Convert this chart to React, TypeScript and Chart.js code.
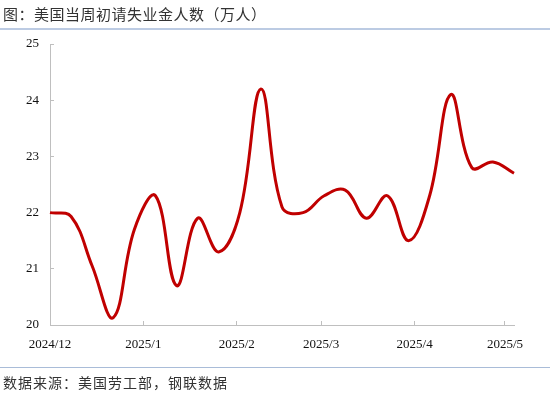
import React, { useEffect, useRef } from "react";
import { Chart, registerables } from "chart.js";

Chart.register(...registerables);

// Week dates and initial jobless claims (万人)
const weekDates: string[] = [
  "2024-12-01", "2024-12-08", "2024-12-15", "2024-12-22", "2024-12-29",
  "2025-01-05", "2025-01-12", "2025-01-19", "2025-01-26",
  "2025-02-02", "2025-02-09", "2025-02-16", "2025-02-23",
  "2025-03-02", "2025-03-09", "2025-03-16", "2025-03-23", "2025-03-30",
  "2025-04-06", "2025-04-13", "2025-04-20", "2025-04-27", "2025-05-04",
];
const claims: number[] = [
  22.0, 21.93, 21.05, 20.13, 21.7,
  22.3, 20.7, 21.9, 21.3,
  22.0, 24.2, 22.1, 22.0,
  22.3, 22.4, 21.9, 22.3, 21.5,
  22.3, 24.1, 22.8, 22.9, 22.7,
];
const monthStarts: string[] = ["2024-12-01", "2025-01-01", "2025-02-01", "2025-03-01", "2025-04-01", "2025-05-01"];
const monthLabels: string[] = ["2024/12", "2025/1", "2025/2", "2025/3", "2025/4", "2025/5"];
const yTicks: number[] = [20, 21, 22, 23, 24, 25];

const TITLE = "图：美国当周初请失业金人数（万人）";
const SOURCE = "数据来源：美国劳工部，钢联数据";

const toDay = (s: string) => {
  const [y, m, d] = s.split("-").map(Number);
  const origin = Date.UTC(2024, 11, 1);
  return Math.round((Date.UTC(y, m - 1, d) - origin) / 86400000);
};

export default function App() {
  const ref = useRef<HTMLCanvasElement | null>(null);

  useEffect(() => {
    if (!ref.current) return;
    const points = weekDates.map((d, i) => ({ x: toDay(d), y: claims[i] }));
    const monthDays = monthStarts.map(toDay);
    const axisColor = "#bfbfbf";
    const tickFont = { family: "'Liberation Serif', 'DejaVu Serif', serif", size: 13 };
    const chart = new Chart(ref.current, {
      type: "line",
      data: {
        datasets: [
          {
            data: points,
            borderColor: "#c00000",
            borderWidth: 3,
            pointRadius: 0,
            tension: 0.4,
            fill: false,
            clip: false as any,
          },
        ],
      },
      options: {
        animation: false,
        responsive: false,
        maintainAspectRatio: false,
        layout: { padding: { left: 0, top: 44, right: 36, bottom: 0 } },
        plugins: { legend: { display: false }, tooltip: { enabled: false }, title: { display: false } },
        scales: {
          x: {
            type: "linear",
            min: 0,
            max: points[points.length - 1].x,
            afterFit: (s: any) => { s.height = 69; },
            afterBuildTicks: (s: any) => { s.ticks = monthDays.map((v) => ({ value: v })); },
            ticks: {
              font: tickFont,
              color: "#111",
              padding: 16,
              maxRotation: 0,
              autoSkip: false,
              callback: (_v: any, i: number) => monthLabels[i],
            },
            grid: { drawOnChartArea: false, drawTicks: true, tickLength: -4, color: axisColor },
            border: { color: axisColor, width: 1 },
          },
          y: {
            type: "linear",
            min: yTicks[0],
            max: yTicks[yTicks.length - 1],
            afterFit: (s: any) => { s.width = 50; },
            afterBuildTicks: (s: any) => { s.ticks = yTicks.map((v) => ({ value: v })); },
            ticks: { font: tickFont, color: "#111", padding: 15 },
            grid: { drawOnChartArea: false, drawTicks: true, tickLength: -4, color: axisColor },
            border: { color: axisColor, width: 1 },
          },
        },
      },
    });
    return () => chart.destroy();
  }, []);

  const cjk = "'Noto Sans CJK SC', 'Noto Sans', sans-serif";
  return (
    <div style={{ position: "fixed", left: 0, top: 0, width: 550, height: 394, background: "#fff", overflow: "hidden" }}>
      <canvas ref={ref} width={550} height={394} style={{ position: "absolute", left: 0, top: 0, width: 550, height: 394 }} />
      <div style={{ position: "absolute", left: 3, top: 4, fontFamily: cjk, fontSize: 15, letterSpacing: "0.5px", lineHeight: "20px", color: "#333", whiteSpace: "nowrap" }}>
        {TITLE}
      </div>
      <div style={{ position: "absolute", left: 0, top: 28, width: 550, height: 2, background: "#bccbe3" }} />
      <div style={{ position: "absolute", left: 0, top: 367, width: 550, height: 1, background: "#a9bcd8" }} />
      <div style={{ position: "absolute", left: 3, top: 372, fontFamily: cjk, fontSize: 14, letterSpacing: "1px", lineHeight: "20px", color: "#333", whiteSpace: "nowrap" }}>
        {SOURCE}
      </div>
    </div>
  );
}
